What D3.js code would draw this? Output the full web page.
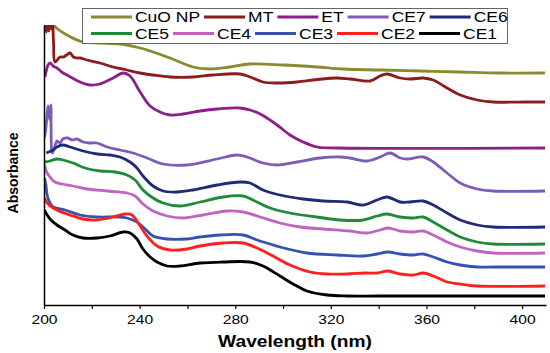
<!DOCTYPE html>
<html>
<head>
<meta charset="utf-8">
<script src="https://cdn.jsdelivr.net/npm/d3@7"></script>
<style>
  body { margin: 0; background: #fff; }
  svg { display: block; font-family: "Liberation Sans", Arial, sans-serif; }
</style>
</head>
<body>
<svg id="chart" width="550" height="353"></svg>
<script>
/* Spectra as [wavelength nm, absorbance a.u.] */
const cuoNP = [[202,2.95],[204,2.80],[209.6,2.70],[216.3,2.63],[223.4,2.62],[231.8,2.61],[240.2,2.57],[244.4,2.54],[252.7,2.47],[262.3,2.38],[269.5,2.36],[277.8,2.38],[286.2,2.41],[300,2.40],[314.2,2.38],[325.1,2.36],[340.6,2.35],[357.3,2.34],[374,2.33],[390.8,2.32],[409.6,2.32]]
const mt = [[200,2.76],[200.5,2.86],[201,2.73],[201.5,2.86],[202,2.74],[202.5,2.86],[203,2.76],[203.5,2.88],[204,2.62],[204.6,2.43],[206.7,2.48],[208.1,2.48],[209.5,2.50],[210.9,2.52],[212.3,2.48],[213.7,2.47],[215.1,2.47],[217.9,2.45],[223.4,2.42],[228.9,2.38],[234.6,2.35],[240.2,2.32],[245.6,2.30],[252.7,2.28],[262.3,2.28],[270.7,2.30],[282,2.31],[286.2,2.28],[291.6,2.23],[297.5,2.22],[305.9,2.23],[314.2,2.255],[322.6,2.27],[328,2.26],[336.4,2.24],[340.6,2.29],[343.5,2.31],[349,2.27],[353.1,2.26],[358.6,2.27],[362.8,2.25],[368.6,2.17],[374.1,2.10],[381.2,2.05],[387.9,2.03],[402.1,2.03],[409.6,2.03]]
const et = [[200.4,2.28],[201.7,2.40],[202.5,2.42],[203.8,2.39],[205.4,2.37],[208,2.32],[209.6,2.30],[215.1,2.23],[219.2,2.20],[223.4,2.21],[228.9,2.27],[233.1,2.32],[236,2.29],[240.2,2.13],[244.4,1.99],[248.5,1.93],[252.7,1.90],[258.2,1.91],[265.3,1.94],[272.4,1.96],[282,1.97],[286.2,1.95],[291.2,1.90],[297.5,1.80],[302.9,1.70],[308.4,1.63],[314.2,1.58],[322.6,1.57],[409.6,1.57]]
const ce7 = [[200.2,1.75],[200.4,1.68],[201.1,1.85],[201.7,1.99],[202.1,1.90],[202.5,1.85],[202.9,2.00],[203.2,1.55],[203.6,1.52],[204.6,1.59],[205.4,1.64],[206.7,1.62],[207.9,1.66],[210,1.67],[211.7,1.65],[213.8,1.66],[216.3,1.63],[219.2,1.62],[222.2,1.62],[226.4,1.58],[231.8,1.55],[237.2,1.52],[243.1,1.47],[249.8,1.41],[259.8,1.40],[272.4,1.46],[280.8,1.50],[284.9,1.48],[291.6,1.42],[297.5,1.40],[305.9,1.43],[315.5,1.47],[323.8,1.48],[328,1.47],[335.1,1.44],[340.6,1.48],[344.8,1.52],[349,1.47],[351.9,1.46],[358.6,1.48],[362.8,1.43],[368.6,1.32],[374.1,1.22],[381.2,1.16],[387.9,1.14],[409.6,1.14]]
const ce6 = [[201,1.52],[203.8,1.55],[205.4,1.58],[207.9,1.60],[210.9,1.58],[216.3,1.54],[222.2,1.51],[227.6,1.50],[231.8,1.48],[236,1.43],[238.9,1.37],[241.4,1.29],[245.6,1.19],[249.8,1.14],[255.6,1.13],[262.3,1.15],[272.4,1.20],[282,1.23],[286.2,1.22],[291.6,1.15],[298.7,1.10],[308.4,1.06],[316.7,1.04],[326.8,1.03],[333.5,1.00],[339.3,1.05],[343.5,1.08],[349,1.03],[353.1,1.03],[358.6,1.04],[362.8,1.00],[368.6,0.92],[374.1,0.85],[381.2,0.80],[387.9,0.78],[409.6,0.78]]
const ce5 = [[200.4,1.43],[202.5,1.44],[205.4,1.46],[207.9,1.45],[212.1,1.42],[217.2,1.37],[223.4,1.34],[229.7,1.33],[234.7,1.30],[238.1,1.25],[241.4,1.15],[244.4,1.09],[249.8,1.02],[256.9,0.99],[265.3,1.03],[274.9,1.08],[283.3,1.09],[287.4,1.05],[294.6,0.97],[302.9,0.92],[314.2,0.88],[323.8,0.85],[333.5,0.85],[339.3,0.89],[343.5,0.91],[349,0.88],[354.4,0.87],[358.6,0.88],[362.8,0.83],[368.6,0.75],[374.1,0.68],[381.2,0.63],[387.9,0.61],[409.6,0.61]]
const ce4 = [[200.2,1.40],[201.3,1.32],[202.5,1.28],[204.6,1.23],[207.5,1.21],[212.1,1.19],[218,1.16],[226.4,1.14],[234.7,1.12],[238.1,1.09],[241.4,1.01],[245.6,0.94],[251.5,0.89],[258.2,0.87],[266.5,0.90],[276.6,0.94],[283.3,0.93],[290.4,0.88],[298.7,0.82],[307.1,0.78],[316.7,0.76],[328,0.74],[335.1,0.72],[340.6,0.75],[343.9,0.77],[349,0.74],[354.4,0.73],[358.6,0.74],[362.8,0.70],[368.6,0.63],[374.1,0.58],[381.2,0.54],[387.9,0.52],[409.6,0.52]]
const ce3 = [[200.2,1.27],[200.8,1.20],[201.3,1.10],[202.5,1.02],[203.8,0.98],[208.8,0.95],[215.1,0.90],[222.2,0.88],[230.5,0.88],[234.7,0.87],[238.9,0.83],[242.3,0.76],[245.6,0.69],[251.5,0.66],[259.8,0.66],[265.3,0.68],[273.6,0.70],[283.3,0.70],[289.1,0.65],[294.6,0.61],[298.7,0.58],[310,0.52],[322.6,0.50],[333.5,0.49],[339.3,0.51],[343.9,0.53],[349,0.51],[354.4,0.50],[358.6,0.51],[362.8,0.48],[368.6,0.43],[374.1,0.40],[381.2,0.38],[387.9,0.38],[409.6,0.38]]
const ce2 = [[200.2,1.07],[201.7,1.01],[205.4,0.95],[210.9,0.90],[216.3,0.86],[222.2,0.85],[228.9,0.88],[233.9,0.91],[236.8,0.90],[240.2,0.79],[243.1,0.69],[247.3,0.59],[252.7,0.55],[259.8,0.56],[265.3,0.59],[274.9,0.62],[283.3,0.62],[289.1,0.57],[295.8,0.49],[302.9,0.40],[311.3,0.33],[318.4,0.31],[326.8,0.31],[334.3,0.32],[339.3,0.32],[343.9,0.34],[349,0.31],[354.4,0.30],[358.6,0.32],[362.8,0.29],[368.6,0.23],[374.1,0.21],[381.2,0.19],[409.6,0.19]]
const ce1 = [[200.2,0.95],[201.3,0.90],[202.5,0.86],[205.4,0.80],[208.8,0.75],[212.1,0.70],[216.3,0.67],[222.2,0.67],[227.6,0.69],[233.1,0.73],[236,0.72],[238.9,0.66],[241.4,0.56],[244.4,0.48],[247.3,0.43],[251.5,0.39],[256.9,0.39],[265.3,0.42],[274.9,0.43],[286.2,0.43],[291.6,0.39],[298.7,0.29],[304.2,0.21],[310,0.14],[318.4,0.10],[326.8,0.09],[340.6,0.09],[409.6,0.09]]

const seriesNames = ["CuO NP", "MT", "ET", "CE7", "CE6", "CE5", "CE4", "CE3", "CE2", "CE1"]
const seriesData = [cuoNP, mt, et, ce7, ce6, ce5, ce4, ce3, ce2, ce1]
const seriesColors = ["#8a8a2e", "#8b1c1c", "#8c1f8c", "#7d5cb8", "#1f2a78", "#1f8a3a", "#c064c0", "#3652b0", "#ff1f1f", "#000000"]
const xTicks = [200, 220, 240, 260, 280, 300, 320, 340, 360, 380, 400]

/* Sizes. */
const width = 550
const height = 353
const plotLeft = 44
const plotRight = 546
const plotTop = 25
const plotBottom = 305
const stretch = 1.25   // text in the picture is wide

const svg = d3.select("#chart")
svg.append("rect").attr("width", width).attr("height", height).attr("fill", "#fff")

/* Scales. */
const xScale = d3.scaleLinear().domain([200, 410]).range([plotLeft, plotRight])
const yScale = d3.scaleLinear().domain([0, 2.8]).range([plotBottom, plotTop])

/* Clip so curves stop at the top of the plot. */
svg.append("clipPath").attr("id", "plotclip")
  .append("rect")
  .attr("x", plotLeft).attr("y", plotTop)
  .attr("width", plotRight - plotLeft + 2).attr("height", plotBottom - plotTop)

const line = d3.line()
  .x(d => xScale(d[0]))
  .y(d => yScale(d[1]))
  .curve(d3.curveCatmullRom.alpha(0.5))

/* Draw curves. */
svg.append("g")
  .attr("clip-path", "url(#plotclip)")
  .selectAll("path")
  .data(seriesData)
  .join("path")
  .attr("d", d => line(d))
  .attr("fill", "none")
  .attr("stroke", (d, i) => seriesColors[i])
  .attr("stroke-width", 2.8)
  .attr("stroke-linejoin", "round")

/* x-axis. */
const xAxis = d3.axisBottom(xScale)
  .tickValues(xTicks)
  .tickFormat(d => d % 40 === 0 ? d : "")
  .tickSize(4)
  .tickSizeOuter(0)
  .tickPadding(6)

const gx = svg.append("g")
  .attr("transform", `translate(0, ${plotBottom})`)
  .call(xAxis)
gx.select(".domain").attr("stroke", "#000").attr("stroke-width", 1.5)
gx.selectAll(".tick line").attr("stroke", "#000").attr("stroke-width", 1.2)
gx.selectAll(".tick text")
  .attr("fill", "#000")
  .style("font-size", "12px")
  .style("font-family", "Liberation Sans, Arial, sans-serif")
  .attr("transform", `scale(1.3, 1)`)

/* y-axis, just the line. */
const gy = svg.append("g")
  .attr("transform", `translate(${plotLeft}, 0)`)
  .call(d3.axisLeft(yScale).tickValues([]).tickSizeOuter(0))
gy.select(".domain").attr("stroke", "#000").attr("stroke-width", 1.5)

/* Axis titles. */
svg.append("text")
  .attr("transform", `translate(295, 347) scale(1.2, 1)`)
  .attr("text-anchor", "middle")
  .style("font-size", "16px")
  .style("font-weight", "bold")
  .text("Wavelength (nm)")

svg.append("text")
  .attr("transform", `translate(18, 173) rotate(-90)`)
  .attr("text-anchor", "middle")
  .style("font-size", "14px")
  .style("font-weight", "bold")
  .text("Absorbance")

/* Legend. */
const legend = svg.append("g")
legend.append("rect")
  .attr("x", 82.5).attr("y", 8.5)
  .attr("width", 425).attr("height", 35)
  .attr("fill", "#fff")
  .attr("stroke", "#666")
  .attr("stroke-width", 1)

const rows = [seriesNames.slice(0, 5), seriesNames.slice(5)]
rows.forEach((names, r) => {
  let x = 91
  const yLine = 17 + r * 16.5
  names.forEach((name, k) => {
    const i = r * 5 + k
    legend.append("line")
      .attr("x1", x).attr("x2", x + 41)
      .attr("y1", yLine).attr("y2", yLine)
      .attr("stroke", seriesColors[i])
      .attr("stroke-width", 2.8)
    const t = legend.append("text")
      .attr("transform", `translate(${x + 44}, ${yLine + 5}) scale(${stretch}, 1)`)
      .style("font-size", "14px")
      .text(name)
    x += 44 + t.node().getComputedTextLength() * stretch + 4
  })
})
</script>
</body>
</html>
